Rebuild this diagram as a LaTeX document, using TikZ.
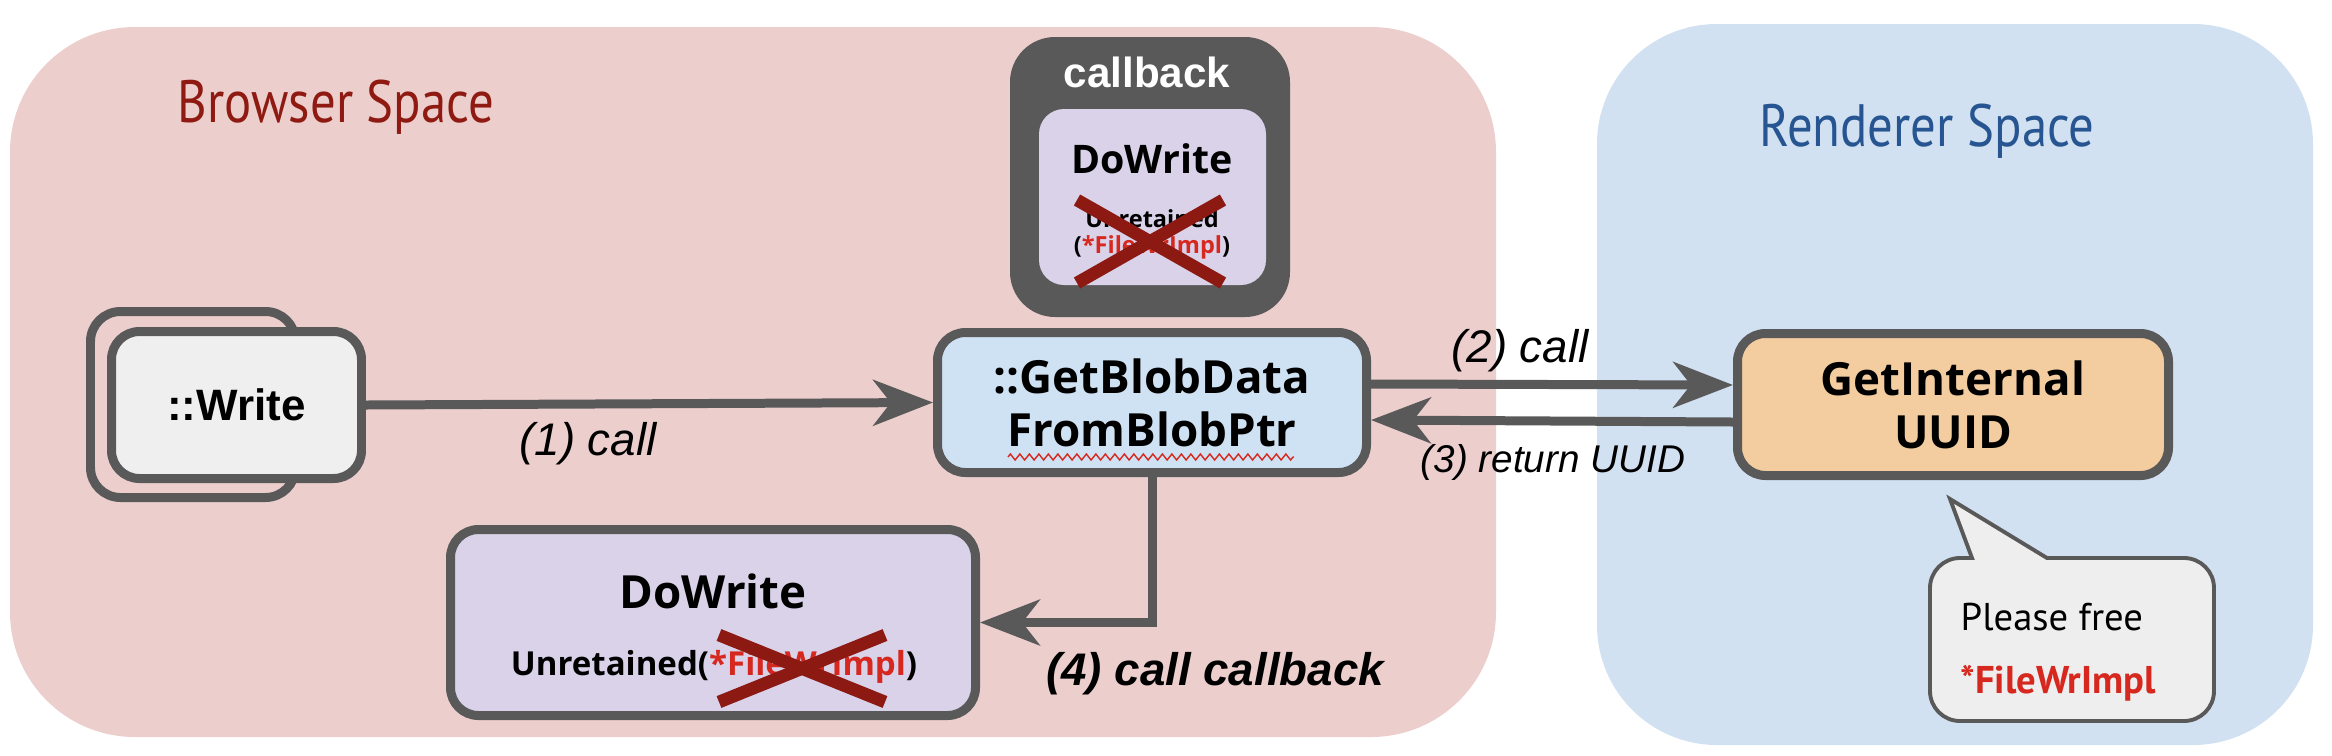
\documentclass[tikz,border=0pt]{standalone}
\usepackage{fontspec}
\usetikzlibrary{arrows.meta,decorations.pathmorphing}
\setmainfont{Liberation Sans}
\newfontfamily\opensans{Open Sans}
\newfontfamily\handfont[FakeStretch=0.85]{PT Sans}
\newfontfamily\notefont{PT Sans}

\definecolor{boxgray}{RGB}{89,89,89}
\definecolor{browserbg}{RGB}{236,206,205}
\definecolor{rendererbg}{RGB}{210,225,241}
\definecolor{blobfill}{RGB}{207,226,243}
\definecolor{dowritefill}{RGB}{217,210,233}
\definecolor{writefill}{RGB}{239,239,239}
\definecolor{internalfill}{RGB}{243,204,160}
\definecolor{notefill}{RGB}{238,238,238}
\definecolor{crossred}{RGB}{140,25,18}
\definecolor{implred}{RGB}{214,40,30}
\definecolor{browserred}{RGB}{142,26,18}
\definecolor{rendererblue}{RGB}{38,85,145}

\tikzset{
  fnbox/.style={draw=boxgray, line width=2.56pt, rounded corners=2.8mm, align=center, inner sep=0pt,
    font=\opensans\bfseries\fontsize{13}{15}\selectfont},
  callarrow/.style={draw=boxgray, line width=2.56pt, -{Stealth[length=17pt,width=13pt,inset=5pt]}},
  cross/.style={draw=crossred, line width=3.6pt},
  steplabel/.style={font=\fontsize{13}{15}\selectfont\itshape, inner sep=0pt, anchor=base},
  spacetitle/.style={font=\handfont\fontsize{17}{20}\selectfont, inner sep=0pt, anchor=base},
}

\begin{document}
\begin{tikzpicture}[x=0.1mm,y=-0.1mm]
	\useasboundingbox (0,0) rectangle (2332,755);
	% the two spaces
	\fill[browserbg, rounded corners=12.5mm] (10,27) rectangle (1496,737);
	\fill[rendererbg, rounded corners=12mm] (1597,24) rectangle (2313,745);
	\node[spacetitle, text=browserred] (browsertitle) at (336,122) {Browser Space};
	\node[spacetitle, text=rendererblue] (renderertitle) at (1927,146) {Renderer Space};

	% callback holding DoWrite
	\node[fill=boxgray, rounded corners=4.5mm, minimum width=28mm, minimum height=28mm] (callback) at (1150,177) {};
	\node[fill=dowritefill, rounded corners=2.5mm, minimum width=22.7mm, minimum height=17.6mm] (cbdowrite) at (1152.5,197) {};
	\node[text=white, font=\bfseries\fontsize{12}{14}\selectfont, anchor=base, inner sep=0pt] (cbtitle) at (1147,87) {callback};
	\node[font=\opensans\bfseries\fontsize{11.2}{13}\selectfont, anchor=base, inner sep=0pt] (cbname) at (1152,173) {DoWrite};
	\node[font=\opensans\bfseries\fontsize{6.7}{8}\selectfont, anchor=base, inner sep=0pt] (cbarga) at (1152,227) {Unretained};
	\node[font=\opensans\bfseries\fontsize{6.7}{8}\selectfont, anchor=base, inner sep=0pt] (cbargb) at (1152,253) {(\textcolor{implred}{*FileWrImpl})};

	% functions
	\draw[boxgray, line width=2.56pt, rounded corners=3mm] (90.5,311.5) rectangle (295.5,497.5);
	\node[fnbox, fill=writefill, minimum width=25mm, minimum height=14.7mm, font=\bfseries\fontsize{12.5}{15}\selectfont] (write) at (236.5,405) {::Write};
	\node[fnbox, fill=blobfill, minimum width=42.9mm, minimum height=14mm] (blob) at (1152,402.5) {::GetBlobData\\FromBlobPtr};
	\node[fnbox, fill=internalfill, minimum width=43.1mm, minimum height=14.2mm] (internal) at (1953,404.5) {GetInternal\\UUID};
	\node[fnbox, fill=dowritefill, minimum width=52.5mm, minimum height=18.6mm] (dowrite) at (713,622.5) {};
	\node[font=\opensans\bfseries\fontsize{13}{15}\selectfont, anchor=base, inner sep=0pt] (dwname) at (713,608) {DoWrite};
	\node[font=\opensans\bfseries\fontsize{9.4}{11}\selectfont, anchor=base, inner sep=0pt] (dwarg) at (714,675) {Unretained(\textcolor{implred}{*FileWrImpl})};
	\draw[implred, line width=0.4pt, decorate, decoration={zigzag, segment length=0.95mm, amplitude=0.3mm}] (1008,457) -- (1294,457);

	% calls
	\draw[callarrow] (write.east) -- (blob.west);
	\draw[callarrow] ([yshift=1.85mm]blob.east) -- ([yshift=1.95mm]internal.west);
	\draw[callarrow] ([yshift=-1.75mm]internal.west) -- ([yshift=-1.75mm]blob.east);
	\draw[callarrow] (blob.south) |- (dowrite.east);
	\node[steplabel] (callone) at (588,455) {(1) call};
	\node[steplabel] (calltwo) at (1520,362) {(2) call};
	\node[steplabel, font=\fontsize{11}{13}\selectfont\itshape] (callthree) at (1553,472) {(3) return UUID};
	\node[steplabel, font=\fontsize{13}{15}\selectfont\bfseries\itshape] (callfour) at (1215,685) {(4) call callback};

	% freed pointer
	\draw[cross] (1077,200) -- (1223,283);
	\draw[cross] (1077,283) -- (1223,200);
	\draw[cross] (719,635) -- (885,702);
	\draw[cross] (719,702) -- (885,635);

	% note in renderer
	\draw[draw=boxgray, fill=notefill, line width=1.1pt] (1930,640) [rounded corners=3mm] -- (1930,558) [sharp corners] -- (1972,558) -- (1950,499) -- (2047,558) [rounded corners=3mm] -- (2214,558) -- (2214,721) -- (1930,721) -- cycle;
	\node[font=\notefont\fontsize{11}{13}\selectfont, anchor=base west, inner sep=0pt] (notea) at (1960,630) {Please free};
	\node[font=\notefont\bfseries\fontsize{11}{13}\selectfont, text=implred, anchor=base west, inner sep=0pt] (noteb) at (1960,693) {*FileWrImpl};
\end{tikzpicture}
\end{document}
